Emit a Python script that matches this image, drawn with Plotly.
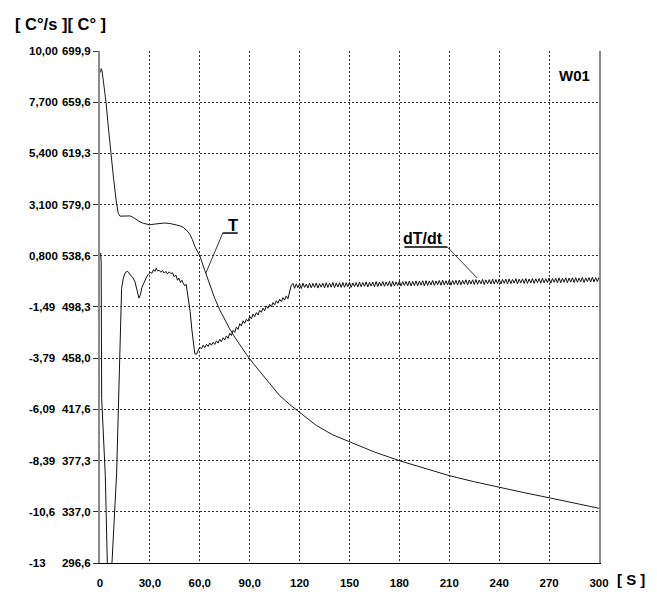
import numpy as np
import plotly.graph_objects as go

# ---------------- data ----------------
# Temperature curve T [C°] vs time [s]
t_T = [0.3, 0.7, 1.2, 2.2, 3.6, 5.0, 6.4, 8.2, 10.0, 11.0, 12.0, 14.0, 16.0, 18.0,
       20.0, 22.0, 24.0, 26.0, 28.0, 30.0, 33.0, 36.0, 39.0, 42.0, 45.0, 48.0, 50.0,
       52.0, 54.0, 55.5, 57.0, 58.5, 60.0, 63.0, 66.0, 69.0, 72.0, 75.0, 78.0, 81.0,
       84.0, 88.0, 92.0, 96.0, 100.0, 104.0, 108.0, 114.0, 120.0, 130.0, 140.0, 150.0,
       165.0, 180.0, 195.0, 210.0, 225.0, 240.0, 255.0, 270.0, 285.0, 300.0]
T_vals = [683.0, 686.0, 684.5, 675.5, 659.7, 640.0, 619.6, 599.0, 579.4, 572.0, 569.8,
          569.8, 570.2, 570.0, 568.8, 567.0, 565.4, 564.2, 563.4, 563.0, 563.6, 564.2,
          564.4, 564.0, 563.3, 562.2, 561.0, 558.8, 555.6, 551.5, 546.0, 542.0, 538.6,
          527.0, 516.0, 505.0, 496.0, 488.0, 481.0, 474.5, 468.5, 461.0, 454.0, 447.5,
          441.5, 434.5, 428.5, 421.5, 415.5, 405.0, 397.5, 392.0, 384.0, 377.2, 371.0,
          365.4, 360.6, 356.2, 352.0, 348.0, 343.8, 339.7]

# Rate curve dT/dt [C°/s] vs time [s]
dtdt_t_early = [0.4, 0.7, 1.0, 2.8, 3.0, 3.2, 4.4, 4.8, 6.6, 7.2, 10.0, 12.2, 13.0,
                14.0, 15.2, 16.4, 17.2, 18.0, 19.5, 21.0, 22.0, 23.4, 24.3, 25.2, 26.2,
                27.2, 28.2, 29.2, 30.2, 31.2, 32.2, 33.0, 33.8, 34.6, 35.6, 36.6, 37.6,
                38.6, 39.6, 40.6, 41.6, 42.6, 43.6, 44.6, 45.6, 46.6, 47.4, 48.4, 49.2,
                50.2, 51.0, 51.8, 52.6, 53.4, 54.2, 55.2, 56.2, 57.0]
dtdt_early = [0.93, 0.50, -5.60, -8.90, -8.60, -9.10, -13.0, -14.5, -14.5, -13.0, -8.96,
              -3.00, -0.66, -0.21, 0.05, 0.10, 0.06, -0.05, -0.15, -0.36, -0.72, -1.10,
              -0.95, -0.62, -0.45, -0.25, -0.12, -0.02, 0.05, 0.02, 0.18, 0.10, 0.24,
              0.12, 0.15, 0.06, 0.14, 0.02, 0.10, -0.01, 0.08, 0.00, 0.04, -0.14, -0.06,
              -0.30, -0.20, -0.40, -0.30, -0.46, -0.55, -0.48, -0.85, -1.20, -1.70, -2.50,
              -3.30, -3.60]
dtdt_t_late = list(range(58, 301))
dtdt_late = [
    -3.62, -3.45, -3.30, -3.38, -3.22, -3.32, -3.18, -3.27, -3.12, -3.22,
    -3.08, -3.18, -3.02, -3.12, -2.95, -3.06, -2.88, -2.98, -2.80, -2.91,
    -2.68, -2.78, -2.55, -2.64, -2.40, -2.51, -2.25, -2.35, -2.12, -2.23,
    -2.05, -2.14, -1.92, -2.03, -1.82, -1.93, -1.75, -1.86, -1.65, -1.74,
    -1.55, -1.67, -1.45, -1.56, -1.38, -1.49, -1.30, -1.41, -1.22, -1.33,
    -1.15, -1.26, -1.08, -1.19, -1.00, -1.13, -0.85, -0.52,
    -0.44, -0.66, -0.46, -0.63, -0.45, -0.67, -0.43, -0.62, -0.47, -0.65,
    -0.43, -0.64, -0.44, -0.62, -0.42, -0.65, -0.45, -0.61, -0.43, -0.64,
    -0.41, -0.62, -0.43, -0.61, -0.40, -0.63, -0.42, -0.60, -0.41, -0.62,
    -0.40, -0.61, -0.41, -0.59, -0.39, -0.62, -0.42, -0.58, -0.40, -0.60,
    -0.38, -0.59, -0.40, -0.57, -0.37, -0.60, -0.39, -0.56, -0.38, -0.59,
    -0.36, -0.58, -0.38, -0.56, -0.36, -0.57, -0.37, -0.55, -0.35, -0.58,
    -0.35, -0.56, -0.37, -0.54, -0.34, -0.56, -0.36, -0.53, -0.35, -0.55,
    -0.33, -0.55, -0.35, -0.53, -0.33, -0.54, -0.34, -0.52, -0.32, -0.55,
    -0.32, -0.53, -0.33, -0.51, -0.31, -0.53, -0.33, -0.50, -0.31, -0.52,
    -0.30, -0.51, -0.32, -0.50, -0.29, -0.52, -0.31, -0.49, -0.30, -0.51,
    -0.29, -0.50, -0.30, -0.48, -0.28, -0.50, -0.29, -0.47, -0.28, -0.49,
    -0.27, -0.48, -0.29, -0.46, -0.26, -0.49, -0.28, -0.46, -0.27, -0.47,
    -0.25, -0.47, -0.27, -0.45, -0.25, -0.47, -0.26, -0.44, -0.25, -0.46,
    -0.24, -0.45, -0.26, -0.43, -0.23, -0.46, -0.25, -0.42, -0.24, -0.44,
    -0.22, -0.44, -0.24, -0.42, -0.22, -0.44, -0.23, -0.41, -0.22, -0.43,
    -0.21, -0.42, -0.23, -0.40, -0.20, -0.43, -0.22, -0.39, -0.21, -0.41,
    -0.19, -0.41, -0.21, -0.39, -0.19, -0.41, -0.20, -0.38, -0.19, -0.40,
    -0.18, -0.39, -0.20, -0.37, -0.17, -0.40, -0.19, -0.36, -0.18, -0.38,
    -0.16, -0.37, -0.18, -0.36, -0.17,
]
assert len(t_T) == len(T_vals)
assert len(dtdt_t_early) == len(dtdt_early)
assert len(dtdt_t_late) == len(dtdt_late)

x_tickvals = [0, 30, 60, 90, 120, 150, 180, 210, 240, 270, 300]
x_ticktext = ["0", "30,0", "60,0", "90,0", "120", "150", "180", "210", "240", "270", "300"]
T_tickvals = [296.6, 337.0, 377.3, 417.6, 458.0, 498.3, 538.6, 579.0, 619.3, 659.6, 699.9]
T_ticktext = ["296,6", "337,0", "377,3", "417,6", "458,0", "498,3", "538,6", "579,0",
              "619,3", "659,6", "699,9"]
D_tickvals = [-13, -10.7, -8.4, -6.1, -3.8, -1.5, 0.8, 3.1, 5.4, 7.7, 10.0]
D_ticktext = ["-13", "-10,6", "-8,39", "-6,09", "-3,79", "-1,49", "0,800", "3,100",
              "5,400", "7,700", "10,00"]

# ---------------- figure ----------------
FONT = "Liberation Sans, Arial, sans-serif"
TICK = 11.5
OFF = 8  # default page body margin
W, H = 657 - OFF, 592 - OFF
ML, MT = 100 - OFF, 51 - OFF
PW, PH = 499, 512
MR, MB = W - ML - PW, H - MT - PH

def px_x(px):
    return (px - OFF - ML) / PW

def px_y(py):
    return (MT + PH - (py - OFF)) / PH

dt_t = dtdt_t_early + dtdt_t_late
dt_v = dtdt_early + dtdt_late

fig = go.Figure()
fig.add_trace(go.Scatter(x=t_T, y=T_vals, mode="lines", yaxis="y",
                         line=dict(color="#1a1a1a", width=1), showlegend=False,
                         hoverinfo="skip"))
fig.add_trace(go.Scatter(x=dt_t, y=dt_v, mode="lines", yaxis="y2",
                         line=dict(color="#111111", width=1), showlegend=False,
                         hoverinfo="skip"))

grid = dict(showgrid=True, gridcolor="#333333", gridwidth=1, griddash="2px,2px")

fig.update_layout(
    width=W, height=H,
    margin=dict(l=ML, r=MR, t=MT, b=MB, pad=0, autoexpand=False),
    paper_bgcolor="white", plot_bgcolor="white",
    font=dict(family=FONT, size=TICK, color="black", weight="bold"),
    xaxis=dict(range=[0, 300], tickvals=x_tickvals, ticktext=x_ticktext,
               showline=True, linecolor="black", linewidth=1, mirror=False,
               ticks="", ticklabelstandoff=9, zeroline=False, automargin=False,
               tickfont=dict(family=FONT, size=TICK, weight="bold"), **grid),
    yaxis=dict(range=[296.6, 699.9], tickvals=T_tickvals, ticktext=T_ticktext,
               showline=True, linecolor="#8a8a8a", linewidth=2, mirror=True,
               ticks="outside", ticklen=5, tickcolor="#333333", zeroline=False,
               automargin=False,
               tickfont=dict(family=FONT, size=TICK, weight="bold"), **grid),
    yaxis2=dict(range=[-13, 10], overlaying="y", visible=False, showgrid=False,
                zeroline=False, automargin=False),
)

# dT/dt tick labels (left column)
for v, s in zip(D_tickvals, D_ticktext):
    fig.add_annotation(x=px_x(27), xref="paper", y=v, yref="y2", text=s,
                       showarrow=False, xanchor="left", yanchor="middle",
                       font=dict(family=FONT, size=TICK, weight="bold"))

# axis unit labels
fig.add_annotation(x=px_x(13), xref="paper", y=px_y(24), yref="paper",
                   text="[ C°/s ][ C° ]", showarrow=False, xanchor="left",
                   yanchor="middle", font=dict(family=FONT, size=16.5, weight="bold"))
fig.add_annotation(x=px_x(615), xref="paper", y=px_y(579), yref="paper",
                   text="[ S ]", showarrow=False, xanchor="left", yanchor="middle",
                   font=dict(family=FONT, size=15, weight="bold"))
fig.add_annotation(x=px_x(574), xref="paper", y=px_y(75), yref="paper",
                   text="W01", showarrow=False, xanchor="center", yanchor="middle",
                   font=dict(family=FONT, size=15, weight="bold"))

# curve labels with leader lines
T_lab_t, T_lab_y = 79.8, 562.8
fig.add_annotation(x=T_lab_t, y=T_lab_y, xref="x", yref="y", text="T",
                   showarrow=False, font=dict(family=FONT, size=16.5, weight="bold"))
T_ul_y = 556.5
T_target_t = 63.6
T_target_y = float(np.interp(T_target_t, t_T, T_vals))
fig.add_shape(type="line", xref="x", yref="y", x0=73.8, x1=82.8, y0=T_ul_y, y1=T_ul_y,
              line=dict(color="black", width=1.5))
fig.add_shape(type="line", xref="x", yref="y", x0=73.8, y0=T_ul_y,
              x1=T_target_t, y1=T_target_y, line=dict(color="#333333", width=1))

fig.add_annotation(x=194.4, y=1.555, xref="x", yref="y2", text="dT/dt",
                   showarrow=False, font=dict(family=FONT, size=16, weight="bold"))
D_ul_y = 1.196
fig.add_shape(type="line", xref="x", yref="y2", x0=183.0, x1=208.8, y0=D_ul_y, y1=D_ul_y,
              line=dict(color="black", width=1.5))
fig.add_shape(type="line", xref="x", yref="y2", x0=208.8, y0=D_ul_y, x1=226.8, y1=-0.2,
              line=dict(color="#333333", width=1))

fig.write_html("out.html")
